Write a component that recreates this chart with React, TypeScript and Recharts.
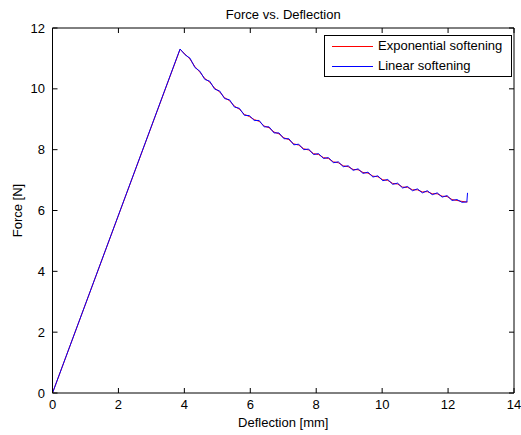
import React from 'react';
import { LineChart, Line, XAxis, YAxis, Legend, Label } from 'recharts';

const deflection = [0, 3.87, 4.02, 4.17, 4.32, 4.47, 4.62, 4.77, 4.92, 5.07, 5.22, 5.37, 5.52, 5.67, 5.82, 5.97, 6.12, 6.27, 6.42, 6.57, 6.72, 6.87, 7.02, 7.17, 7.32, 7.47, 7.62, 7.77, 7.92, 8.07, 8.22, 8.37, 8.52, 8.67, 8.82, 8.97, 9.12, 9.27, 9.42, 9.57, 9.72, 9.87, 10.02, 10.17, 10.32, 10.47, 10.62, 10.77, 10.92, 11.07, 11.22, 11.37, 11.52, 11.67, 11.82, 11.97, 12.12, 12.27, 12.42, 12.57, 12.59];

const expForce = [0, 11.30, 11.14, 10.98, 10.73, 10.55, 10.34, 10.22, 10.02, 9.90, 9.71, 9.61, 9.43, 9.33, 9.16, 9.09, 8.99, 8.93, 8.78, 8.72, 8.58, 8.52, 8.39, 8.33, 8.19, 8.15, 8.03, 7.99, 7.87, 7.84, 7.74, 7.71, 7.60, 7.57, 7.47, 7.44, 7.35, 7.34, 7.25, 7.23, 7.13, 7.11, 7.01, 6.99, 6.89, 6.87, 6.77, 6.76, 6.68, 6.68, 6.61, 6.62, 6.55, 6.55, 6.47, 6.46, 6.36, 6.33, 6.30, 6.28, 6.28];

const linForce = [0, 11.31, 11.12, 11.01, 10.70, 10.58, 10.31, 10.25, 9.99, 9.93, 9.68, 9.64, 9.40, 9.36, 9.13, 9.12, 8.96, 8.96, 8.75, 8.75, 8.55, 8.55, 8.36, 8.36, 8.16, 8.18, 8.00, 8.02, 7.84, 7.87, 7.71, 7.74, 7.57, 7.60, 7.44, 7.47, 7.32, 7.37, 7.22, 7.26, 7.10, 7.14, 6.98, 7.02, 6.86, 6.90, 6.74, 6.79, 6.65, 6.71, 6.58, 6.65, 6.52, 6.58, 6.44, 6.49, 6.33, 6.36, 6.27, 6.28, 6.58];

const xTicks = [0, 2, 4, 6, 8, 10, 12, 14];
const yTicks = [0, 2, 4, 6, 8, 10, 12];
const chartTitle = 'Force vs. Deflection';
const xLabel = 'Deflection [mm]';
const yLabel = 'Force [N]';
const seriesNames = ['Exponential softening', 'Linear softening'];
const seriesColors = ['#ff0000', '#0000ff'];

const expData = deflection.map((x, i) => ({ x, y: expForce[i] }));
const linData = deflection.map((x, i) => ({ x, y: linForce[i] }));

const FONT = '"Liberation Sans", Arial, Helvetica, sans-serif';
const FS = 13;

const TitleLabel = (props: any) => {
  const vb = props.viewBox || { x: 44.5, y: 19, width: 461.5, height: 1 };
  const cx = vb.x + vb.width / 2;
  return (
    <text x={cx} y={vb.y - 8} textAnchor="middle" fontFamily={FONT} fontSize={FS} fill="#000">
      {chartTitle}
    </text>
  );
};

const YAxisLabel = (props: any) => {
  const vb = props.viewBox || { x: 4.5, y: 20, width: 40, height: 365 };
  const cx = vb.x + 4.5;
  const cy = vb.y + vb.height / 2;
  return (
    <text x={cx} y={cy} transform={`rotate(-90 ${cx} ${cy})`} textAnchor="middle" dominantBaseline="central" fontFamily={FONT} fontSize={FS} fill="#000">
      {yLabel}
    </text>
  );
};

const XAxisLabel = (props: any) => {
  const vb = props.viewBox || { x: 44.5, y: 385, width: 461.5, height: 30 };
  const cx = vb.x + vb.width / 2;
  return (
    <text x={cx} y={vb.y + 34} textAnchor="middle" fontFamily={FONT} fontSize={FS} fill="#000">
      {xLabel}
    </text>
  );
};

const LegendBox = () => (
  <div style={{ border: '1px solid #000', background: '#fff', width: 186, fontFamily: FONT, fontSize: FS, color: '#000' }}>
    {seriesNames.map((name, i) => (
      <div key={name} style={{ display: 'flex', alignItems: 'center', height: 20 }}>
        <svg width={49} height={20} style={{ display: 'block' }}>
          <line x1={7} x2={48} y1={10.5} y2={10.5} stroke={seriesColors[i]} strokeWidth={1} />
        </svg>
        <span style={{ marginLeft: 4, lineHeight: '20px' }}>{name}</span>
      </div>
    ))}
  </div>
);

export default function App() {
  const tickStyle = { fontFamily: FONT, fontSize: FS, fill: '#000' };
  return (
    <div style={{ width: 513, height: 427 }}>
      <style>{'body{margin:8px 0 0 8px;overflow:hidden}.recharts-surface{overflow:visible}'}</style>
      <LineChart width={513} height={427} margin={{ top: 19, right: 6, bottom: 12, left: 4.5 }}>
        <XAxis xAxisId="bottom" type="number" dataKey="x" domain={[0, 14]} ticks={xTicks} orientation="bottom" interval={0}
          height={30} stroke="#000" tickSize={-5} tickMargin={12} tick={tickStyle} allowDataOverflow>
          <Label content={<XAxisLabel />} />
        </XAxis>
        <XAxis xAxisId="top" type="number" dataKey="x" domain={[0, 14]} ticks={xTicks} orientation="top" interval={0}
          height={1} stroke="#000" tickSize={-5} tickFormatter={() => ''} allowDataOverflow>
          <Label content={<TitleLabel />} />
        </XAxis>
        <YAxis yAxisId="left" type="number" domain={[0, 12]} ticks={yTicks} orientation="left" interval={0}
          width={40} stroke="#000" tickSize={-5} tickMargin={12.5} tick={tickStyle} allowDataOverflow>
          <Label content={<YAxisLabel />} />
        </YAxis>
        <YAxis yAxisId="right" type="number" domain={[0, 12]} ticks={yTicks} orientation="right" interval={0}
          width={1} stroke="#000" tickSize={-5} tickFormatter={() => ''} allowDataOverflow />
        <Legend content={<LegendBox />} layout="vertical" align="center" verticalAlign="middle"
          wrapperStyle={{ position: 'absolute', left: 316, top: 27, width: 188 }} />
        <Line xAxisId="bottom" yAxisId="left" data={expData} dataKey="y" name={seriesNames[0]} stroke={seriesColors[0]}
          strokeWidth={1} dot={false} isAnimationActive={false} type="linear" />
        <Line xAxisId="bottom" yAxisId="left" data={linData} dataKey="y" name={seriesNames[1]} stroke={seriesColors[1]}
          strokeWidth={1} dot={false} isAnimationActive={false} type="linear" />
      </LineChart>
    </div>
  );
}
